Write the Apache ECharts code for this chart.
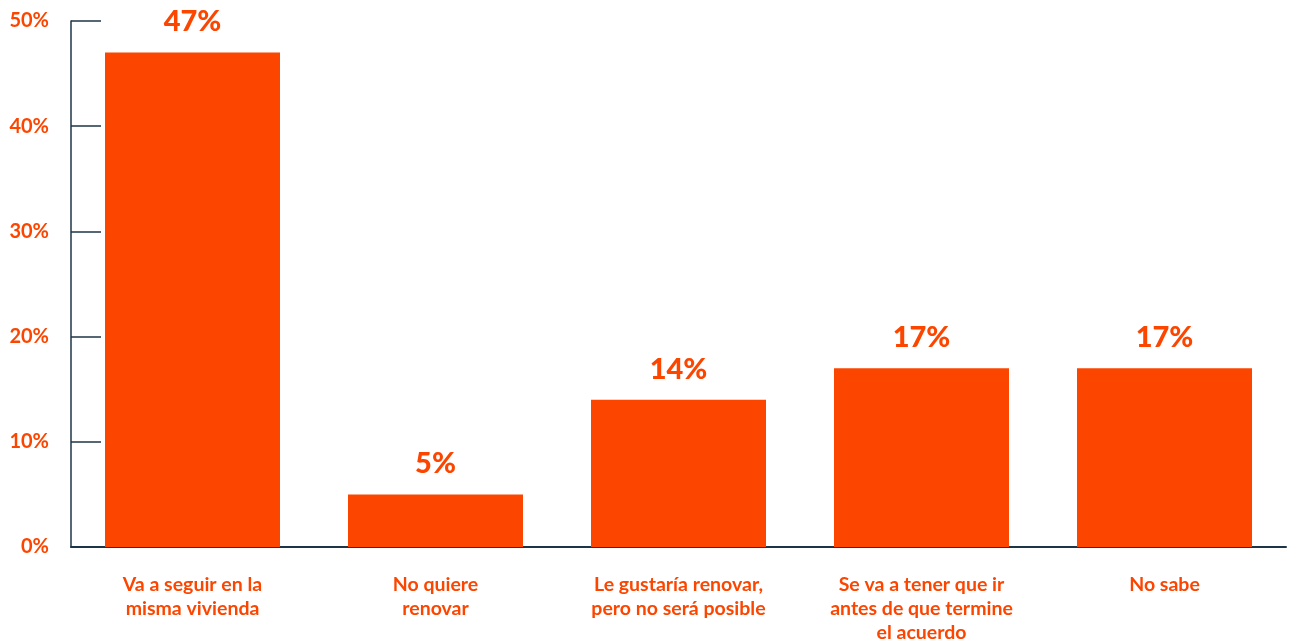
<!DOCTYPE html>
<html><head><meta charset="utf-8">
<script src="https://cdn.jsdelivr.net/npm/echarts@6/dist/echarts.min.js"></script>
<style>html,body{margin:0;padding:0;background:#fff}#c{width:1289px;height:642px}</style>
</head><body><div id="c"></div>
<script>
const categories = ["Va a seguir en la\nmisma vivienda", "No quiere\nrenovar", "Le gustaría renovar,\npero no será posible", "Se va a tener que ir\nantes de que termine\nel acuerdo", "No sabe"];
const values = [47, 5, 14, 17, 17];
const yTicks = [0, 10, 20, 30, 40, 50];

const orange = '#FC4600';
const axisColor = '#1e3547';
const font = 'Lato';
const chart = echarts.init(document.getElementById('c'));
chart.setOption({
  animation: false,
  grid: {left: 71, right: 3, top: 21, bottom: 95, outerBoundsMode: 'none', containLabel: false},
  xAxis: {
    type: 'category', data: categories,
    axisLine: {lineStyle: {color: axisColor, width: 2}},
    axisTick: {inside: true, length: 10, lineStyle: {color: axisColor, width: 1.5}},
    axisLabel: {color: orange, fontFamily: font, fontWeight: 'bold', fontSize: 19.5, lineHeight: 24, margin: 26, interval: 0}
  },
  yAxis: {
    type: 'value', min: yTicks[0], max: yTicks[yTicks.length-1], interval: 10,
    axisLine: {show: true, lineStyle: {color: axisColor, width: 1.5}},
    axisTick: {show: true, inside: true, length: 30, lineStyle: {color: axisColor, width: 1.5}},
    splitLine: {show: false},
    axisLabel: {color: orange, fontFamily: font, fontWeight: 'bold', fontSize: 20, margin: 22, formatter: v => v + '%'}
  },
  series: [{
    type: 'bar', data: values, barWidth: 175,
    itemStyle: {color: orange},
    label: {show: true, position: 'top', distance: 16, color: orange, fontFamily: font, fontWeight: 900, fontSize: 29, formatter: p => p.value + '%'}
  }]
});
</script></body></html>
